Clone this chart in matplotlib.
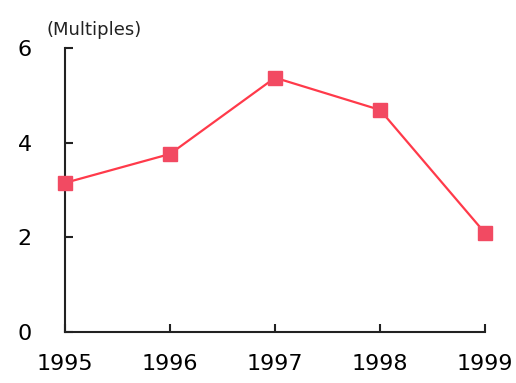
import matplotlib.pyplot as plt

# Yearly values (multiples)
years = [1995, 1996, 1997, 1998, 1999]
multiples = [3.15, 3.76, 5.37, 4.69, 2.09]
y_ticks = [0, 2, 4, 6]

fig = plt.figure(figsize=(5.16, 3.83), dpi=100)
ax = fig.add_axes([0.126, 0.133, 0.814, 0.742])

ax.plot(years, multiples, color='#ff3a4a', linewidth=1.6,
        marker='s', markersize=10, markerfacecolor='#f24a62',
        markeredgecolor='#f24a62', clip_on=False, zorder=3)

ax.set_xlim(1995, 1999)
ax.set_ylim(0, 6)
ax.set_xticks(years)
ax.set_yticks(y_ticks)

for side in ('top', 'right'):
    ax.spines[side].set_visible(False)
for side in ('left', 'bottom'):
    ax.spines[side].set_linewidth(1.5)
    ax.spines[side].set_color('#222222')

ax.tick_params(axis='both', direction='in', length=6, width=1.5,
               color='#222222', labelsize=16)
ax.tick_params(axis='y', pad=24)
ax.tick_params(axis='x', pad=16)

# unit note above the y axis
ax.text(-0.045, 1.03, '(Multiples)', transform=ax.transAxes,
        fontsize=13, ha='left', va='bottom', color='#222222')

fig.savefig('out.png', dpi=100)
